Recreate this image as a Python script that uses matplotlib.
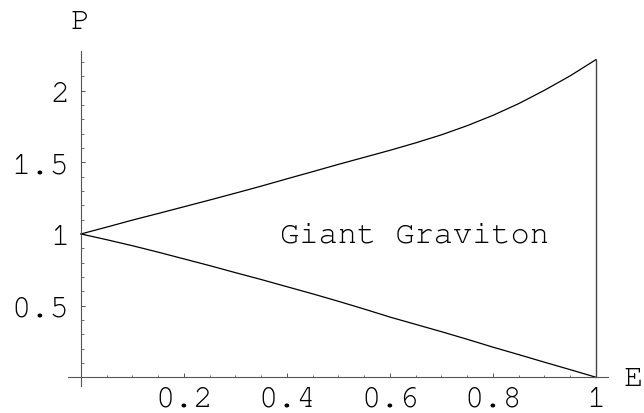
import matplotlib
matplotlib.use("Agg")
import matplotlib.pyplot as plt
from matplotlib import font_manager
import logging
logging.getLogger("matplotlib.font_manager").setLevel(logging.ERROR)

# Data
energy = [0.0, 0.05, 0.1, 0.15, 0.2, 0.25, 0.3, 0.35, 0.4, 0.45, 0.5,
          0.55, 0.6, 0.65, 0.7, 0.75, 0.8, 0.85, 0.9, 0.95, 1.0]
p_upper = [1.0, 1.048, 1.097, 1.143, 1.19, 1.237, 1.285, 1.334, 1.385, 1.435, 1.486,
           1.535, 1.584, 1.636, 1.692, 1.756, 1.828, 1.91, 2.003, 2.104, 2.217]
p_lower = [1.0, 0.96, 0.918, 0.873, 0.826, 0.779, 0.73, 0.682, 0.632, 0.582, 0.53,
           0.476, 0.42, 0.369, 0.318, 0.265, 0.21, 0.158, 0.105, 0.053, 0.0]

edge_x = [1.0, 1.0]
edge_p = [0.0, 2.217]

x_ticks = [0.2, 0.4, 0.6, 0.8, 1.0]
x_tick_labels = ["0.2", "0.4", "0.6", "0.8", "1"]
y_ticks = [0.5, 1.0, 1.5, 2.0]
y_tick_labels = ["0.5", "1", "1.5", "2"]
x_minor = [0.05 * i for i in range(1, 21)]
y_minor = [0.1 * i for i in range(1, 23)]

region_label = "Giant Graviton"
x_name = "E"
y_name = "P"

installed = {f.name for f in font_manager.fontManager.ttflist}
FONT = "Liberation Mono"
for cand in ["Nimbus Mono PS", "Nimbus Mono L", "FreeMono", "Courier New", "Courier"]:
    if cand in installed:
        FONT = cand
        break
FS = 23
AXC = "#555555"

fig = plt.figure(figsize=(6.44, 4.14), dpi=100)
ax = fig.add_axes([68 / 644, (414 - 387) / 414, 540 / 644, 335 / 414])

ax.plot(energy, p_upper, color="black", lw=0.9)
ax.plot(energy, p_lower, color="black", lw=0.9)
ax.plot(edge_x, edge_p, color="#444444", lw=1.0)

ax.set_xlim(-0.0252, 1.0233)
ax.set_ylim(-0.061, 2.277)

for s in ["top", "right"]:
    ax.spines[s].set_visible(False)
ax.spines["left"].set_position(("data", 0))
ax.spines["bottom"].set_position(("data", 0))
for s in ["left", "bottom"]:
    ax.spines[s].set_color(AXC)
    ax.spines[s].set_linewidth(0.8)

ax.set_xticks(x_ticks)
ax.set_xticklabels(x_tick_labels, fontfamily=FONT, fontsize=FS)
ax.set_yticks(y_ticks)
ax.set_yticklabels(y_tick_labels, fontfamily=FONT, fontsize=FS)
ax.set_xticks(x_minor, minor=True)
ax.set_yticks(y_minor, minor=True)
ax.tick_params(which="major", direction="in", length=3.2, width=0.7, color=AXC)
ax.tick_params(which="minor", direction="in", length=1.8, width=0.6, color=AXC)
ax.tick_params(axis="x", which="major", pad=6)
ax.tick_params(axis="y", which="major", pad=8.5)

ax.text(0.647, 0.945, region_label, fontfamily=FONT, fontsize=FS,
        ha="center", va="baseline")

ax.text(0.023, 1.091, y_name, transform=ax.transAxes, fontfamily=FONT,
        fontsize=FS, ha="center", va="center", clip_on=False)
ax.text(1.047, 0.025, x_name, transform=ax.transAxes, fontfamily=FONT,
        fontsize=FS, ha="center", va="center", clip_on=False)

fig.savefig("out.png", dpi=100)
